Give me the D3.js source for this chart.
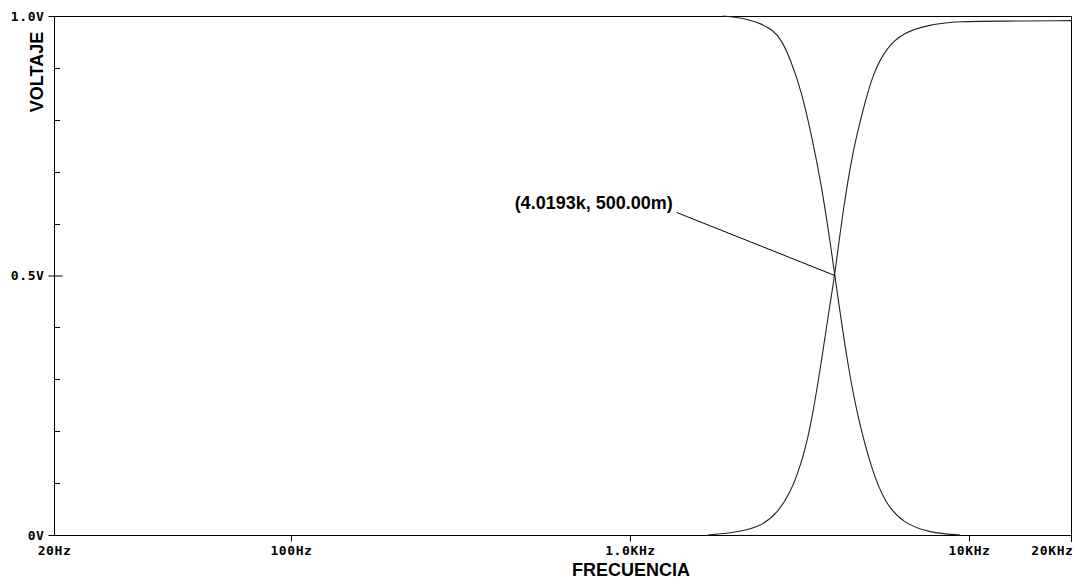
<!DOCTYPE html>
<html>
<head>
<meta charset="utf-8">
<script src="https://cdn.jsdelivr.net/npm/d3@7"></script>
<style>
	body { margin: 0; background: #fff; }
	svg { display: block; }
	.tick-label { font-family: "DejaVu Sans Mono", monospace; font-weight: bold; font-size: 13px; letter-spacing: 0.6px; fill: #000; }
	.title { font-family: "Liberation Sans", Arial, sans-serif; font-weight: bold; font-size: 18px; fill: #000; }
</style>
</head>
<body>
<svg width="1077" height="586"></svg>
<script>
// frequency sweep (Hz)
const lowFreq = [1880, 2100, 2260, 2420, 2640, 2800, 2980, 3200, 3420, 3650, 3890, 4019.3, 4410, 4720, 5170, 5650, 6390, 7680, 9410];
const lowVolt = [1.0, 0.997, 0.992, 0.986, 0.973, 0.954, 0.915, 0.857, 0.775, 0.684, 0.568, 0.5, 0.318, 0.222, 0.125, 0.062, 0.023, 0.004, 0.0];

const highFreq = [1700, 2010, 2420, 2720, 2970, 3180, 3400, 3640, 3890, 4019.3, 4250, 4550, 4870, 5210, 5730, 6390, 7520, 9410, 12350, 20000];
const highVolt = [0.0, 0.004, 0.015, 0.042, 0.081, 0.131, 0.202, 0.318, 0.445, 0.5, 0.626, 0.742, 0.819, 0.89, 0.94, 0.967, 0.983, 0.99, 0.99, 0.991];

const xTicks = [20, 100, 1000, 10000, 20000];
const xTickLabels = ['20Hz', '100Hz', '1.0KHz', '10KHz', '20KHz'];

const yTicks = [0, 0.5, 1.0];
const yTickLabels = ['0V', '0.5V', '1.0V'];
const yMinorTicks = [0.1, 0.2, 0.3, 0.4, 0.6, 0.7, 0.8, 0.9];

const crossPoint = [4019.3, 0.5];
const crossLabel = '(4.0193k, 500.00m)';

const svg = d3.select('svg');
const width = +svg.attr('width');
const height = +svg.attr('height');

const render = () => {
	const margin = { top: 16, right: 6, bottom: 51, left: 54 };
	const innerWidth = width - margin.left - margin.right;
	const innerHeight = height - margin.top - margin.bottom;

	const xScale = d3.scaleLog()
		.domain([20, 20000])
		.range([0, innerWidth]);

	const yScale = d3.scaleLinear()
		.domain([0, 1])
		.range([innerHeight, 0]);

	const g = svg.append('g')
		.attr('transform', `translate(${margin.left}, ${margin.top})`);

	//frame: top and right edges
	g.append('path')
		.attr('d', `M0,0.5H${innerWidth + 0.5}V${innerHeight + 7}`)
		.attr('fill', 'none')
		.attr('stroke', '#000');

	//y-as
	const yAxis = g.append('g')
		.attr('transform', 'translate(0.5, 0)')
		.call(d3.axisLeft(yScale)
			.tickValues(yTicks)
			.tickSize(6)
			.tickFormat((d, i) => yTickLabels[i]));
	yAxis.attr('font-family', null).attr('font-size', null);
	yAxis.select('.domain').attr('d', `M0,0V${innerHeight}`);
	yAxis.selectAll('.tick line').attr('x2', d => d === 0.5 ? 8 : 0).attr('x1', -6);
	yAxis.selectAll('.tick text')
		.attr('class', 'tick-label')
		.attr('x', -10);

	g.append('g').selectAll('line').data(yMinorTicks)
		.enter().append('line')
			.attr('x1', 0)
			.attr('x2', 6)
			.attr('y1', d => Math.round(yScale(d)) + 0.5)
			.attr('y2', d => Math.round(yScale(d)) + 0.5)
			.attr('stroke', '#000');

	//x-as
	const xAxis = g.append('g')
		.attr('transform', `translate(0, ${innerHeight + 0.5})`)
		.call(d3.axisBottom(xScale)
			.tickValues(xTicks)
			.tickSize(6)
			.tickFormat((d, i) => xTickLabels[i]));
	xAxis.attr('font-family', null).attr('font-size', null);
	xAxis.select('.domain').attr('d', `M0,0H${innerWidth}`);
	xAxis.selectAll('.tick line').filter(d => d === 20).remove();
	xAxis.selectAll('.tick text')
		.attr('class', 'tick-label')
		.attr('y', 10)
		.filter(d => d === 20000)
			.attr('text-anchor', 'end')
			.attr('dx', 2);

	//curves
	const line = d3.line()
		.x(d => xScale(d[0]))
		.y(d => yScale(d[1]))
		.curve(d3.curveBasis);

	const series = [
		lowFreq.map((f, i) => [f, lowVolt[i]]),
		highFreq.map((f, i) => [f, highVolt[i]])
	];

	g.selectAll('.curve').data(series)
		.enter().append('path')
			.attr('class', 'curve')
			.attr('d', line)
			.attr('fill', 'none')
			.attr('stroke', '#222')
			.attr('stroke-width', 1.1);

	//annotation
	const px = xScale(crossPoint[0]);
	const py = yScale(crossPoint[1]);

	g.append('line')
		.attr('x1', px - 158)
		.attr('y1', py - 63)
		.attr('x2', px)
		.attr('y2', py)
		.attr('stroke', '#000');

	g.append('text')
		.attr('class', 'title')
		.attr('x', px - 162)
		.attr('y', py - 67)
		.attr('text-anchor', 'end')
		.text(crossLabel);

	//axis titles
	svg.append('text')
		.attr('class', 'title')
		.attr('transform', 'translate(43, 72) rotate(-90)')
		.attr('text-anchor', 'middle')
		.text('VOLTAJE');

	svg.append('text')
		.attr('class', 'title')
		.attr('x', 631)
		.attr('y', 576)
		.attr('text-anchor', 'middle')
		.text('FRECUENCIA');
};

render();
</script>
</body>
</html>
